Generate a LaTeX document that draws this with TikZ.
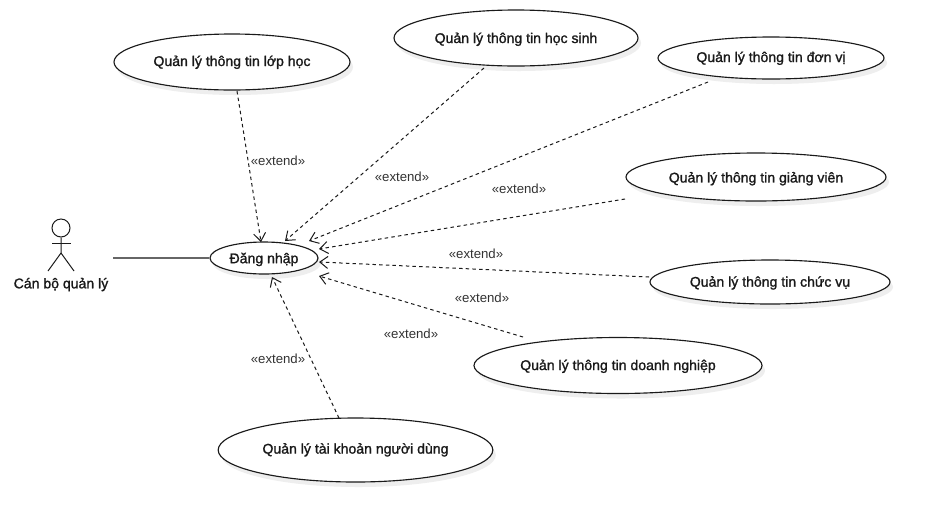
\documentclass[tikz,border=0pt]{standalone}
\usepackage{fontspec}
\setmainfont{Liberation Sans}
\newfontfamily\ucfont[FakeBold=1.3]{Liberation Sans}
\usetikzlibrary{shapes.geometric,arrows.meta}
\definecolor{ln}{HTML}{1A1A1A}
\definecolor{lbl}{HTML}{333333}
\definecolor{ucshade}{HTML}{EEEEEE}
\newcommand{\uctext}[2]{\raisebox{-#1pt}[0pt][0pt]{#2}}
\newcommand{\ucshadow}[4]{\fill[fill=ucshade] (#1+3,#2+5) ellipse [x radius=#3,y radius=#4];}
\tikzset{
 px/.style={x=0.75pt,y=-0.75pt},
 usecase/.style={ellipse,draw=ln,line width=0.85pt,fill=white,inner sep=0pt,
   font=\ucfont\fontsize{10.55}{12}\selectfont,text=black!90},
 ext/.style={draw=ln,line width=0.75pt,dash pattern=on 2.6pt off 2.4pt,
   -{Straight Barb[length=6pt,width=9pt,line width=0.75pt]}},
 extlabel/.style={font=\fontsize{9.9}{11}\selectfont,text=lbl,inner sep=0pt},
 actorline/.style={draw=ln,line width=0.75pt},
 assoc/.style={draw=black!60,line width=1pt},
}
\begin{document}
\begin{tikzpicture}[px]
\useasboundingbox[fill=white] (0,0) rectangle (930,522);
\ucshadow{232}{62}{118}{28}
\ucshadow{516}{38}{122}{28}
\ucshadow{771}{58}{113}{21}
\ucshadow{756}{177}{130}{24}
\ucshadow{770}{282}{120}{22}
\ucshadow{618}{365.5}{144}{28}
\ucshadow{355.5}{450}{137.3}{32}
\ucshadow{264}{258}{54}{16}
\node[usecase,minimum width=177pt,minimum height=42pt] (lop) at (232,62) {\uctext{3.0}{Quản lý thông tin lớp học}};
\node[usecase,minimum width=183pt,minimum height=42pt] (hs) at (516,38) {\uctext{3.75}{Quản lý thông tin học sinh}};
\node[usecase,minimum width=169.5pt,minimum height=31.5pt] (dv) at (771,58) {\uctext{3.0}{Quản lý thông tin đơn vị}};
\node[usecase,minimum width=195pt,minimum height=36pt] (gv) at (756,177) {\uctext{4.1}{Quản lý thông tin giảng viên}};
\node[usecase,minimum width=180pt,minimum height=33pt] (cv) at (770,282) {\uctext{3.5}{Quản lý thông tin chức vụ}};
\node[usecase,minimum width=216pt,minimum height=42pt] (dnghiep) at (618,365.5) {\uctext{3.4}{Quản lý thông tin doanh nghiệp}};
\node[usecase,minimum width=206pt,minimum height=48pt] (tk) at (355.5,450) {\uctext{2.7}{Quản lý tài khoản người dùng}};
\node[usecase,minimum width=81pt,minimum height=24pt] (dn) at (264,258) {\uctext{3.9}{Đăng nhập}};
% actor
\node[circle,draw=ln,line width=0.75pt,minimum size=13.5pt,inner sep=0pt] (head) at (61,228) {};
\coordinate (hip) at (61,253);
\coordinate (armL) at (52,243);
\coordinate (armR) at (71,243);
\coordinate (legL) at (48,271);
\coordinate (legR) at (74,271);
\draw[actorline] (head.south) -- (hip) -- (legL);
\draw[actorline] (hip) -- (legR);
\draw[actorline] (armL) -- (armR);
\node[font=\ucfont\fontsize{10.55}{12}\selectfont,text=black!90,inner sep=0pt] (actor) at (61,284.5) {Cán bộ quản lý};
% association
\coordinate (assocstart) at (113,258);
\draw[assoc] (assocstart) -- (dn.west);
% free ends
\coordinate (s1) at (237,91);
\coordinate (t1) at (261,242);
\coordinate (s2) at (484,68);
\coordinate (t2) at (285,241);
\coordinate (s3) at (708,82);
\coordinate (t3) at (309,241);
\coordinate (s4) at (625,199);
\coordinate (t4) at (319,249);
\coordinate (s5) at (649,277);
\coordinate (t5) at (319,262);
\coordinate (s6) at (523,337);
\coordinate (t6) at (319,276);
\coordinate (s7) at (339,418);
\coordinate (t7) at (272,277);
\draw[ext] (s1) -- (t1);
\draw[ext] (s2) -- (t2);
\draw[ext] (s3) -- (t3);
\draw[ext] (s4) -- (t4);
\draw[ext] (s5) -- (t5);
\draw[ext] (s6) -- (t6);
\draw[ext] (s7) -- (t7);
\node[extlabel] (l1) at (278,160.5) {«extend»};
\node[extlabel] (l2) at (402,176.5) {«extend»};
\node[extlabel] (l3) at (519,188.5) {«extend»};
\node[extlabel] (l4) at (476,253.5) {«extend»};
\node[extlabel] (l5) at (482,297.5) {«extend»};
\node[extlabel] (l6) at (411,333.5) {«extend»};
\node[extlabel] (l7) at (278,358.5) {«extend»};
\end{tikzpicture}
\end{document}
